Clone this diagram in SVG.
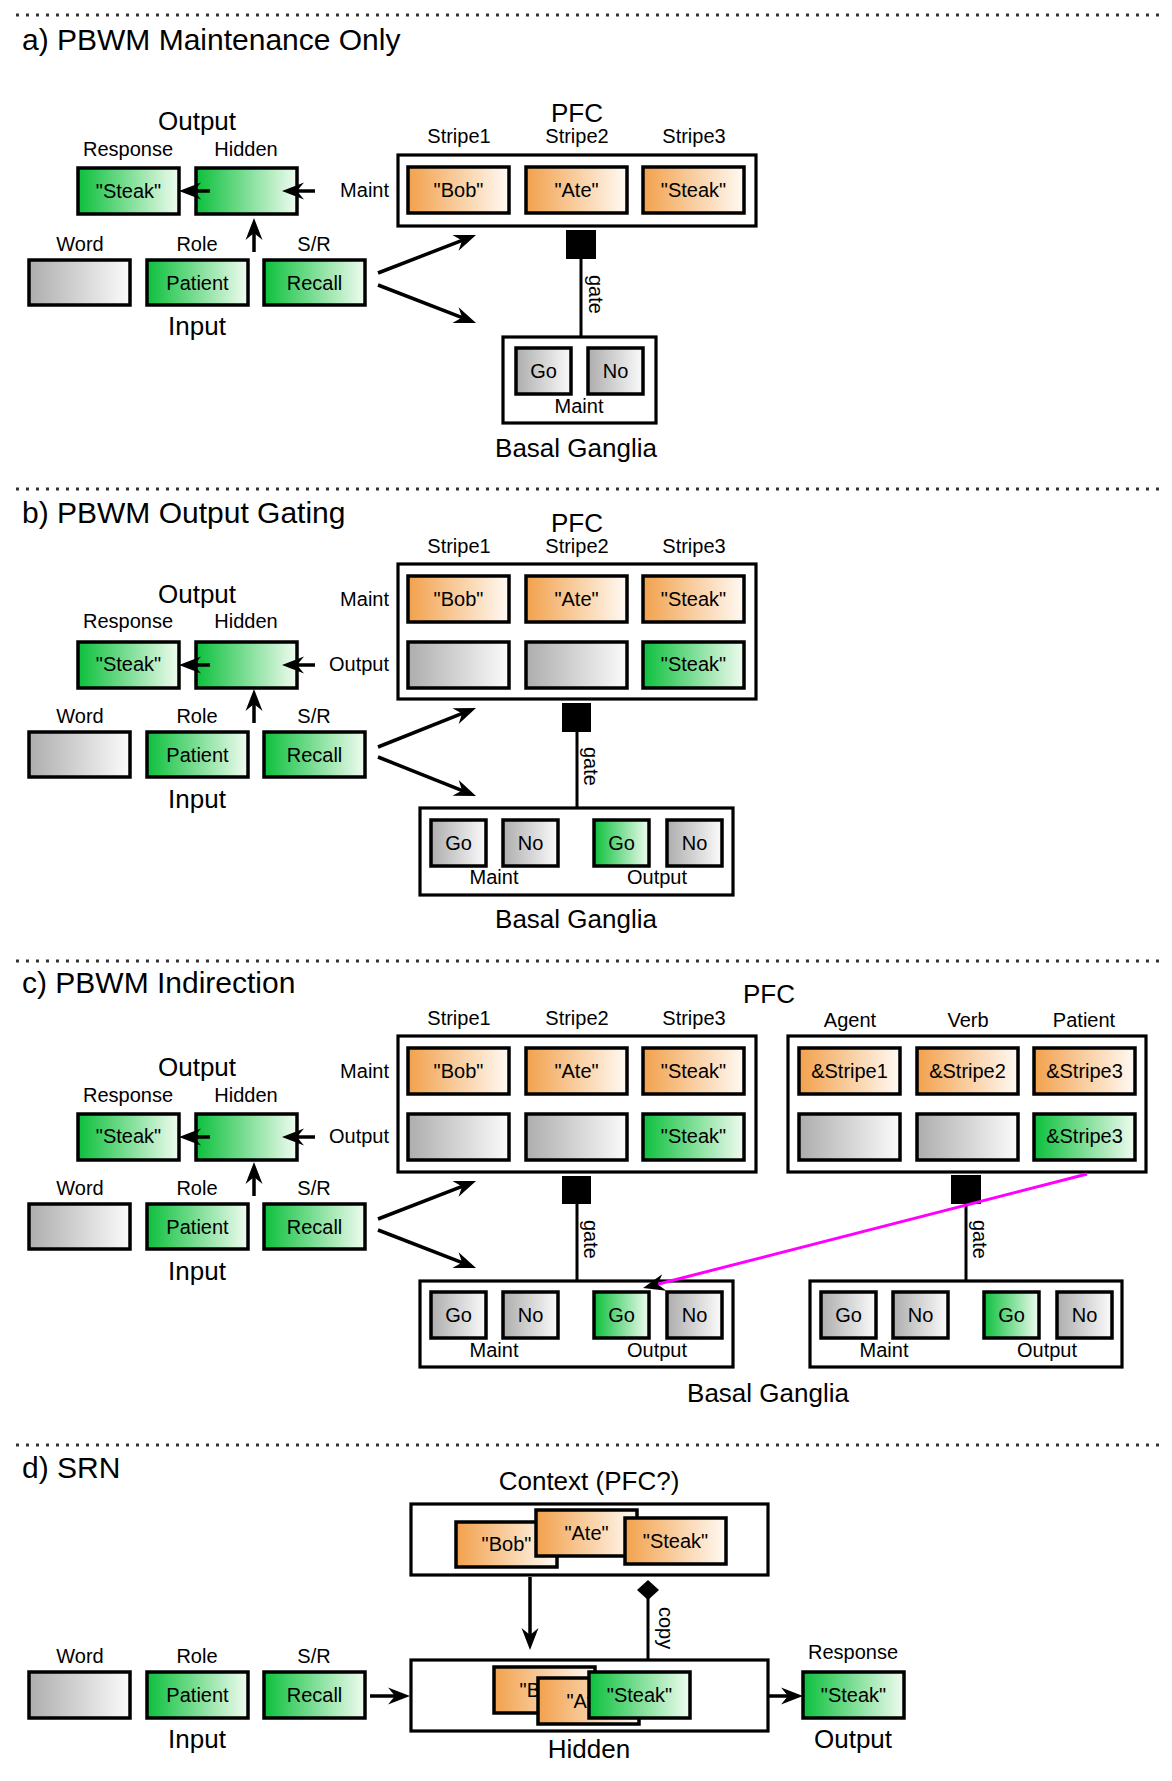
<svg xmlns="http://www.w3.org/2000/svg" width="1172" height="1781" viewBox="0 0 1172 1781">
<defs>
<linearGradient id="gGreen" x1="0" y1="0" x2="1" y2="0"><stop offset="0" stop-color="#0cc03c"/><stop offset="1" stop-color="#f0fcf0"/></linearGradient>
<linearGradient id="gOrange" x1="0" y1="0" x2="1" y2="0"><stop offset="0" stop-color="#f2a14c"/><stop offset="1" stop-color="#fffaf4"/></linearGradient>
<linearGradient id="gGray" x1="0" y1="0" x2="1" y2="0"><stop offset="0" stop-color="#adadad"/><stop offset="1" stop-color="#fbfbfb"/></linearGradient>
<marker id="arr" viewBox="-24 -10 26 20" refX="-10" refY="0" markerWidth="26" markerHeight="20" markerUnits="userSpaceOnUse" orient="auto"><path d="M0,0 L-22,-8.5 L-15,0 L-22,8.5 Z" fill="#000"/></marker>
<style>
text{font-family:'Liberation Sans',Arial,sans-serif;fill:#000}
.ti{font-size:30px}
.lg{font-size:26px;text-anchor:middle}
.sm{font-size:20px;text-anchor:middle}
.rt{font-size:20px;text-anchor:end}
.st{font-size:20px}
.b{stroke:#000;stroke-width:3.5}
.gr{fill:url(#gGreen)}
.or{fill:url(#gOrange)}
.gy{fill:url(#gGray)}
.out{fill:#fff;stroke:#000;stroke-width:3.2}
.dot{stroke:#333;stroke-width:3;stroke-dasharray:3 7;fill:none}
.ar{stroke:#000;stroke-width:3.5;fill:none;marker-end:url(#arr)}
.gl{stroke:#000;stroke-width:3;fill:none}
.mg{stroke:#ff00ff;stroke-width:3;fill:none;marker-end:url(#arr)}
</style>
</defs>
<rect width="1172" height="1781" fill="#fff"/>

<g id="separators">
<line class="dot" x1="16" y1="15" x2="1162" y2="15"/>
<line class="dot" x1="16" y1="489" x2="1162" y2="489"/>
<line class="dot" x1="16" y1="961" x2="1162" y2="961"/>
<line class="dot" x1="16" y1="1445" x2="1162" y2="1445"/>
</g>

<!-- ===== Section a ===== -->
<g id="a-title"><text class="ti" x="22" y="50">a) PBWM Maintenance Only</text></g>
<g id="a-output">
<text class="lg" x="197" y="130">Output</text>
<text class="sm" x="128" y="156">Response</text>
<text class="sm" x="246" y="156">Hidden</text>
<rect class="b gr" x="78" y="168" width="101" height="46"/>
<text class="sm" x="128.5" y="198">"Steak"</text>
<rect class="b gr" x="196" y="168" width="101" height="46"/>
</g>
<g id="a-input">
<text class="sm" x="80" y="251">Word</text>
<text class="sm" x="197" y="251">Role</text>
<text class="sm" x="314" y="251">S/R</text>
<rect class="b gy" x="29" y="260" width="101" height="45"/>
<rect class="b gr" x="147" y="260" width="101" height="45"/>
<text class="sm" x="197.5" y="290">Patient</text>
<rect class="b gr" x="264" y="260" width="101" height="45"/>
<text class="sm" x="314.5" y="290">Recall</text>
<text class="lg" x="197" y="335">Input</text>
</g>
<g id="a-pfc">
<text class="lg" x="577" y="122">PFC</text>
<text class="sm" x="459" y="143">Stripe1</text>
<text class="sm" x="577" y="143">Stripe2</text>
<text class="sm" x="694" y="143">Stripe3</text>
<text class="rt" x="389" y="197">Maint</text>
<rect class="out" x="398" y="155" width="358" height="71"/>
<rect class="b or" x="408" y="167" width="101" height="46"/>
<text class="sm" x="458.5" y="197">"Bob"</text>
<rect class="b or" x="526" y="167" width="101" height="46"/>
<text class="sm" x="576.5" y="197">"Ate"</text>
<rect class="b or" x="643" y="167" width="101" height="46"/>
<text class="sm" x="693.5" y="197">"Steak"</text>
</g>
<g id="a-bg">
<rect class="out" x="503" y="337" width="153" height="86"/>
<rect class="b gy" x="516" y="348" width="55" height="46"/>
<text class="sm" x="543.5" y="378">Go</text>
<rect class="b gy" x="588" y="348" width="55" height="46"/>
<text class="sm" x="615.5" y="378">No</text>
<text class="sm" x="579" y="413">Maint</text>
<text class="lg" x="576" y="457">Basal Ganglia</text>
</g>

<!-- ===== Section b ===== -->
<g id="b-title"><text class="ti" x="22" y="523">b) PBWM Output Gating</text></g>
<g id="b-output">
<text class="lg" x="197" y="603">Output</text>
<text class="sm" x="128" y="628">Response</text>
<text class="sm" x="246" y="628">Hidden</text>
<rect class="b gr" x="78" y="642" width="101" height="46"/>
<text class="sm" x="128.5" y="671">"Steak"</text>
<rect class="b gr" x="196" y="642" width="101" height="46"/>
</g>
<g id="b-input">
<text class="sm" x="80" y="723">Word</text>
<text class="sm" x="197" y="723">Role</text>
<text class="sm" x="314" y="723">S/R</text>
<rect class="b gy" x="29" y="732" width="101" height="45"/>
<rect class="b gr" x="147" y="732" width="101" height="45"/>
<text class="sm" x="197.5" y="762">Patient</text>
<rect class="b gr" x="264" y="732" width="101" height="45"/>
<text class="sm" x="314.5" y="762">Recall</text>
<text class="lg" x="197" y="808">Input</text>
</g>
<g id="b-pfc">
<text class="lg" x="577" y="532">PFC</text>
<text class="sm" x="459" y="553">Stripe1</text>
<text class="sm" x="577" y="553">Stripe2</text>
<text class="sm" x="694" y="553">Stripe3</text>
<text class="rt" x="389" y="606">Maint</text>
<text class="rt" x="389" y="671">Output</text>
<rect class="out" x="398" y="564" width="358" height="135"/>
<rect class="b or" x="408" y="576" width="101" height="46"/>
<text class="sm" x="458.5" y="606">"Bob"</text>
<rect class="b or" x="526" y="576" width="101" height="46"/>
<text class="sm" x="576.5" y="606">"Ate"</text>
<rect class="b or" x="643" y="576" width="101" height="46"/>
<text class="sm" x="693.5" y="606">"Steak"</text>
<rect class="b gy" x="408" y="642" width="101" height="46"/>
<rect class="b gy" x="526" y="642" width="101" height="46"/>
<rect class="b gr" x="643" y="642" width="101" height="46"/>
<text class="sm" x="693.5" y="671">"Steak"</text>
</g>
<g id="b-bg">
<rect class="out" x="420" y="808" width="313" height="87"/>
<rect class="b gy" x="431" y="820" width="55" height="46"/>
<text class="sm" x="458.5" y="850">Go</text>
<rect class="b gy" x="503" y="820" width="55" height="46"/>
<text class="sm" x="530.5" y="850">No</text>
<rect class="b gr" x="594" y="820" width="55" height="46"/>
<text class="sm" x="621.5" y="850">Go</text>
<rect class="b gy" x="667" y="820" width="55" height="46"/>
<text class="sm" x="694.5" y="850">No</text>
<text class="sm" x="494" y="884">Maint</text>
<text class="sm" x="657" y="884">Output</text>
<text class="lg" x="576" y="928">Basal Ganglia</text>
</g>

<!-- ===== Section c ===== -->
<g id="c-title"><text class="ti" x="22" y="993">c) PBWM Indirection</text></g>
<g id="c-output">
<text class="lg" x="197" y="1076">Output</text>
<text class="sm" x="128" y="1102">Response</text>
<text class="sm" x="246" y="1102">Hidden</text>
<rect class="b gr" x="78" y="1114" width="101" height="46"/>
<text class="sm" x="128.5" y="1143">"Steak"</text>
<rect class="b gr" x="196" y="1114" width="101" height="46"/>
</g>
<g id="c-input">
<text class="sm" x="80" y="1195">Word</text>
<text class="sm" x="197" y="1195">Role</text>
<text class="sm" x="314" y="1195">S/R</text>
<rect class="b gy" x="29" y="1204" width="101" height="45"/>
<rect class="b gr" x="147" y="1204" width="101" height="45"/>
<text class="sm" x="197.5" y="1234">Patient</text>
<rect class="b gr" x="264" y="1204" width="101" height="45"/>
<text class="sm" x="314.5" y="1234">Recall</text>
<text class="lg" x="197" y="1280">Input</text>
</g>
<g id="c-pfc-stripes">
<text class="sm" x="459" y="1025">Stripe1</text>
<text class="sm" x="577" y="1025">Stripe2</text>
<text class="sm" x="694" y="1025">Stripe3</text>
<text class="rt" x="389" y="1078">Maint</text>
<text class="rt" x="389" y="1143">Output</text>
<rect class="out" x="398" y="1036" width="358" height="136"/>
<rect class="b or" x="408" y="1048" width="101" height="46"/>
<text class="sm" x="458.5" y="1078">"Bob"</text>
<rect class="b or" x="526" y="1048" width="101" height="46"/>
<text class="sm" x="576.5" y="1078">"Ate"</text>
<rect class="b or" x="643" y="1048" width="101" height="46"/>
<text class="sm" x="693.5" y="1078">"Steak"</text>
<rect class="b gy" x="408" y="1114" width="101" height="46"/>
<rect class="b gy" x="526" y="1114" width="101" height="46"/>
<rect class="b gr" x="643" y="1114" width="101" height="46"/>
<text class="sm" x="693.5" y="1143">"Steak"</text>
</g>
<g id="c-pfc-roles">
<text class="lg" x="769" y="1003">PFC</text>
<text class="sm" x="850" y="1027">Agent</text>
<text class="sm" x="968" y="1027">Verb</text>
<text class="sm" x="1084" y="1027">Patient</text>
<rect class="out" x="788" y="1036" width="358" height="136"/>
<rect class="b or" x="799" y="1048" width="101" height="46"/>
<text class="sm" x="849.5" y="1078">&amp;Stripe1</text>
<rect class="b or" x="917" y="1048" width="101" height="46"/>
<text class="sm" x="967.5" y="1078">&amp;Stripe2</text>
<rect class="b or" x="1034" y="1048" width="101" height="46"/>
<text class="sm" x="1084.5" y="1078">&amp;Stripe3</text>
<rect class="b gy" x="799" y="1114" width="101" height="46"/>
<rect class="b gy" x="917" y="1114" width="101" height="46"/>
<rect class="b gr" x="1034" y="1114" width="101" height="46"/>
<text class="sm" x="1084.5" y="1143">&amp;Stripe3</text>
</g>
<g id="c-bg1">
<rect class="out" x="420" y="1281" width="313" height="86"/>
<rect class="b gy" x="431" y="1292" width="55" height="46"/>
<text class="sm" x="458.5" y="1322">Go</text>
<rect class="b gy" x="503" y="1292" width="55" height="46"/>
<text class="sm" x="530.5" y="1322">No</text>
<rect class="b gr" x="594" y="1292" width="55" height="46"/>
<text class="sm" x="621.5" y="1322">Go</text>
<rect class="b gy" x="667" y="1292" width="55" height="46"/>
<text class="sm" x="694.5" y="1322">No</text>
<text class="sm" x="494" y="1357">Maint</text>
<text class="sm" x="657" y="1357">Output</text>
</g>
<g id="c-bg2">
<rect class="out" x="810" y="1281" width="312" height="86"/>
<rect class="b gy" x="821" y="1292" width="55" height="46"/>
<text class="sm" x="848.5" y="1322">Go</text>
<rect class="b gy" x="893" y="1292" width="55" height="46"/>
<text class="sm" x="920.5" y="1322">No</text>
<rect class="b gr" x="984" y="1292" width="55" height="46"/>
<text class="sm" x="1011.5" y="1322">Go</text>
<rect class="b gy" x="1057" y="1292" width="55" height="46"/>
<text class="sm" x="1084.5" y="1322">No</text>
<text class="sm" x="884" y="1357">Maint</text>
<text class="sm" x="1047" y="1357">Output</text>
</g>
<g id="c-bg-label"><text class="lg" x="768" y="1402">Basal Ganglia</text></g>

<!-- ===== Section d ===== -->
<g id="d-title"><text class="ti" x="22" y="1478">d) SRN</text></g>
<g id="d-input">
<text class="sm" x="80" y="1663">Word</text>
<text class="sm" x="197" y="1663">Role</text>
<text class="sm" x="314" y="1663">S/R</text>
<rect class="b gy" x="29" y="1672" width="101" height="46"/>
<rect class="b gr" x="147" y="1672" width="101" height="46"/>
<text class="sm" x="197.5" y="1702">Patient</text>
<rect class="b gr" x="264" y="1672" width="101" height="46"/>
<text class="sm" x="314.5" y="1702">Recall</text>
<text class="lg" x="197" y="1748">Input</text>
</g>
<g id="d-context">
<text class="lg" x="589" y="1490">Context (PFC?)</text>
<rect class="out" x="411" y="1504" width="357" height="71"/>
<rect class="b or" x="456" y="1522" width="101" height="45"/>
<text class="sm" x="506.5" y="1551">"Bob"</text>
<rect class="b or" x="536" y="1510" width="101" height="46"/>
<text class="sm" x="586.5" y="1540">"Ate"</text>
<rect class="b or" x="625" y="1518" width="101" height="46"/>
<text class="sm" x="675.5" y="1548">"Steak"</text>
</g>
<g id="d-hidden">
<rect class="out" x="411" y="1660" width="357" height="71"/>
<rect class="b or" x="494" y="1667" width="101" height="46"/>
<text class="sm" x="544.5" y="1697">"Bob"</text>
<rect class="b or" x="538" y="1678" width="101" height="46"/>
<text class="sm" x="588.5" y="1708">"Ate"</text>
<rect class="b gr" x="589" y="1672" width="101" height="46"/>
<text class="sm" x="639.5" y="1702">"Steak"</text>
<text class="lg" x="589" y="1758">Hidden</text>
</g>
<g id="d-output">
<text class="sm" x="853" y="1659">Response</text>
<rect class="b gr" x="803" y="1672" width="101" height="46"/>
<text class="sm" x="853.5" y="1702">"Steak"</text>
<text class="lg" x="853" y="1748">Output</text>
</g>

<!-- ===== Connectors ===== -->
<g id="connectors">
<!-- a -->
<line class="ar" x1="210" y1="191" x2="189" y2="191"/>
<line class="ar" x1="315" y1="191" x2="292" y2="191"/>
<line class="ar" x1="254" y1="252" x2="254" y2="228"/>
<line class="ar" x1="378" y1="273" x2="466.7" y2="238.6"/>
<line class="ar" x1="378" y1="285" x2="466.7" y2="319.4"/>
<rect x="566" y="230" width="30" height="29" fill="#000"/>
<line class="gl" x1="581" y1="259" x2="581" y2="337"/>
<text class="st" transform="translate(589,275) rotate(90)">gate</text>
<!-- b -->
<line class="ar" x1="210" y1="665" x2="189" y2="665"/>
<line class="ar" x1="315" y1="665" x2="292" y2="665"/>
<line class="ar" x1="254" y1="723" x2="254" y2="699"/>
<line class="ar" x1="378" y1="747" x2="466.7" y2="711.7"/>
<line class="ar" x1="378" y1="757" x2="466.7" y2="792.3"/>
<rect x="562" y="703" width="29" height="29" fill="#000"/>
<line class="gl" x1="577" y1="732" x2="577" y2="808"/>
<text class="st" transform="translate(584,747) rotate(90)">gate</text>
<!-- c -->
<line class="ar" x1="210" y1="1137" x2="189" y2="1137"/>
<line class="ar" x1="315" y1="1137" x2="292" y2="1137"/>
<line class="ar" x1="254" y1="1196" x2="254" y2="1172"/>
<line class="ar" x1="378" y1="1219" x2="466.7" y2="1184.6"/>
<line class="ar" x1="378" y1="1230" x2="466.7" y2="1264.4"/>
<rect x="562" y="1176" width="29" height="28" fill="#000"/>
<line class="gl" x1="577" y1="1204" x2="577" y2="1281"/>
<text class="st" transform="translate(584,1220) rotate(90)">gate</text>
<rect x="951" y="1175" width="30" height="29" fill="#000"/>
<line class="gl" x1="966" y1="1204" x2="966" y2="1281"/>
<text class="st" transform="translate(973,1220) rotate(90)">gate</text>
<line class="mg" x1="1087" y1="1174" x2="652.7" y2="1285.5"/>
<!-- d -->
<line class="ar" x1="370" y1="1696" x2="400" y2="1696"/>
<line class="ar" x1="768" y1="1696" x2="793" y2="1696"/>
<line class="ar" x1="530" y1="1577" x2="530" y2="1640"/>
<line class="gl" x1="648" y1="1660" x2="648" y2="1598"/>
<path d="M648,1580 L659,1590 L648,1600 L637,1590 Z" fill="#000"/>
<text class="st" transform="translate(659,1607) rotate(90)">copy</text>
</g>
</svg>
